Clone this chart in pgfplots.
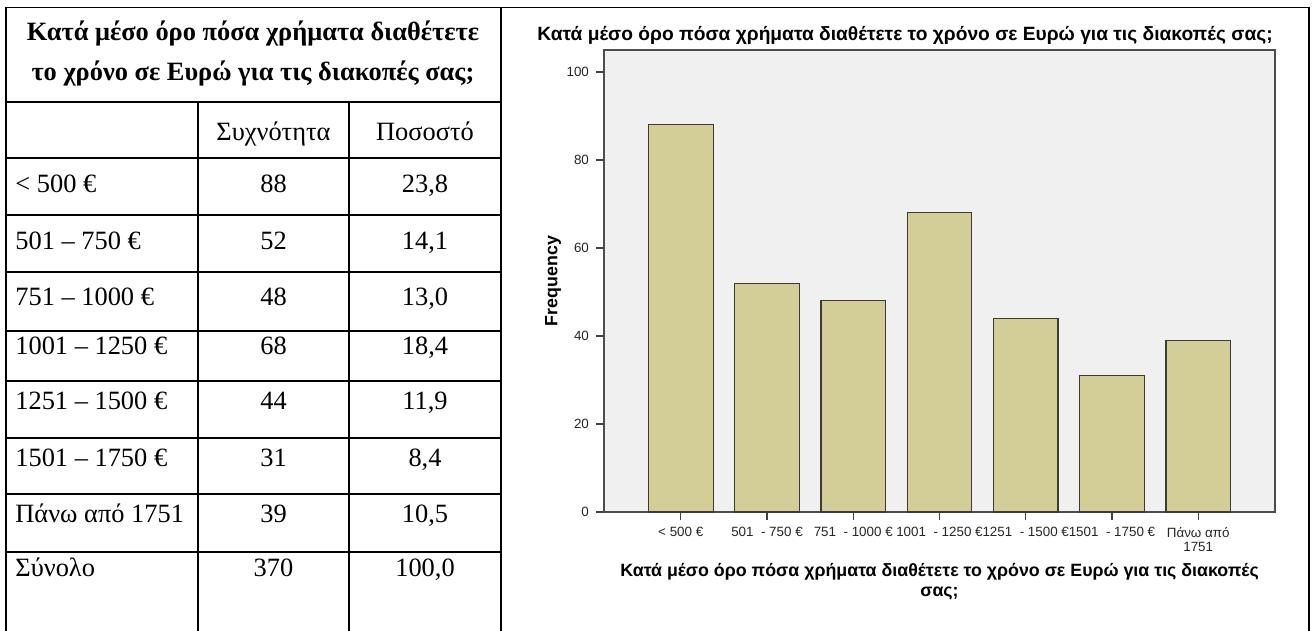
\documentclass[border=0pt]{standalone}
\usepackage{fontspec}
\setmainfont{Liberation Serif}
\newfontfamily\arial{Liberation Sans}
\usepackage{pgfplots}
\pgfplotsset{compat=1.18}

\definecolor{barfill}{RGB}{211,206,151}
\definecolor{barline}{RGB}{60,60,50}
\definecolor{plotbg}{RGB}{240,240,240}

\newcommand{\tabfont}{\fontsize{13.2}{15}\selectfont}
\newcommand{\tickfont}{\arial\fontsize{6.7}{7}\selectfont}
\newcommand{\labfont}{\arial\bfseries\fontsize{8.9}{10}\selectfont}

\begin{document}
\begin{tikzpicture}
% 1 px of the reference image = 0.5pt
\begin{scope}[x=0.5pt, y=-0.5pt, every node/.style={inner sep=0pt}]
  % frame of the two cells
  \draw[line width=0.9pt] (6,7.5) -- (501,7.5);
  \draw[line width=0.6pt] (501,7.5) -- (1309,7.5);
  \draw[line width=0.9pt] (6,7.5) -- (6,640);
  \draw[line width=0.9pt] (501,7.5) -- (501,640);
  \draw[line width=0.9pt] (1309,7.5) -- (1309,640);
  % table grid
  \draw[line width=0.9pt] (198,102) -- (198,640);
  \draw[line width=0.9pt] (349,102) -- (349,640);
  \foreach \y in {102,158,215,272,331,381,438,494,552}
    \draw[line width=0.9pt] (6,\y) -- (501,\y);

  % table text
  \node[anchor=base, font=\tabfont\bfseries] at (253,40.5) {Κατά μέσο όρο πόσα χρήματα διαθέτετε};
  \node[anchor=base, font=\tabfont\bfseries] at (253,80.5) {το χρόνο σε Ευρώ για τις διακοπές σας;};
  \node[anchor=base, font=\tabfont] at (273.5,140.5) {Συχνότητα};
  \node[anchor=base, font=\tabfont] at (425,140.5) {Ποσοστό};

  \node[anchor=base west, font=\tabfont] at (15,192.5) {< 500 €};
  \node[anchor=base, font=\tabfont] at (273.5,192.5) {88};
  \node[anchor=base, font=\tabfont] at (425,192.5) {23,8};

  \node[anchor=base west, font=\tabfont] at (15,249) {501 – 750 €};
  \node[anchor=base, font=\tabfont] at (273.5,249) {52};
  \node[anchor=base, font=\tabfont] at (425,249) {14,1};

  \node[anchor=base west, font=\tabfont] at (15,305) {751 – 1000 €};
  \node[anchor=base, font=\tabfont] at (273.5,305) {48};
  \node[anchor=base, font=\tabfont] at (425,305) {13,0};

  \node[anchor=base west, font=\tabfont] at (15,354) {1001 – 1250 €};
  \node[anchor=base, font=\tabfont] at (273.5,354) {68};
  \node[anchor=base, font=\tabfont] at (425,354) {18,4};

  \node[anchor=base west, font=\tabfont] at (15,409.5) {1251 – 1500 €};
  \node[anchor=base, font=\tabfont] at (273.5,409.5) {44};
  \node[anchor=base, font=\tabfont] at (425,409.5) {11,9};

  \node[anchor=base west, font=\tabfont] at (15,466) {1501 – 1750 €};
  \node[anchor=base, font=\tabfont] at (273.5,466) {31};
  \node[anchor=base, font=\tabfont] at (425,466) {8,4};

  \node[anchor=base west, font=\tabfont] at (15,522.5) {Πάνω από 1751};
  \node[anchor=base, font=\tabfont] at (273.5,522.5) {39};
  \node[anchor=base, font=\tabfont] at (425,522.5) {10,5};

  \node[anchor=base west, font=\tabfont] at (15,576) {Σύνολο};
  \node[anchor=base, font=\tabfont] at (273.5,576) {370};
  \node[anchor=base, font=\tabfont] at (425,576) {100,0};

  % chart title, centred on the right cell
  \node[font=\arial\bfseries\fontsize{9.6}{11}\selectfont] at (905,35)
    {Κατά μέσο όρο πόσα χρήματα διαθέτετε το χρόνο σε Ευρώ για τις διακοπές σας;};
\end{scope}

\begin{axis}[
  at={(302pt,-256pt)}, anchor=south west,
  scale only axis, width=335.5pt, height=231pt,
  xmin=-0.89, xmax=6.89, ymin=0, ymax=105,
  axis background/.style={fill=plotbg},
  axis line style={draw=black!70, line width=0.6pt},
  xtick={0,...,6},
  xticklabels={{< 500 €},{501\ \ - 750 €},{751\ \ - 1000 €},{1001\ \ - 1250 €},{1251\ \ - 1500 €},{1501\ \ - 1750 €},{Πάνω από\\1751}},
  ytick={0,20,...,100},
  tick align=outside, tick pos=left,
  major tick length=4pt,
  tick style={draw=black!75, line width=0.6pt},
  ticklabel style={font=\tickfont, text=black!85},
  xticklabel style={align=center},
  /pgf/number format/assume math mode=true,
  ylabel={Frequency},
  ylabel style={font=\labfont, at={(axis description cs:-0.076,0.5)}, anchor=center},
  xlabel={Κατά μέσο όρο πόσα χρήματα διαθέτετε το χρόνο σε Ευρώ για τις διακοπές\\σας;},
  xlabel style={font=\labfont, align=center, at={(axis description cs:0.5,-0.097)}, anchor=north},
]
\addplot[ybar, bar width=0.75, fill=barfill, draw=barline, line width=0.6pt] coordinates {
  (0,88) (1,52) (2,48) (3,68) (4,44) (5,31) (6,39)
};
\end{axis}

\pgfresetboundingbox
\path[use as bounding box] (0,0) rectangle (658pt,-315.5pt);
\end{tikzpicture}
\end{document}
